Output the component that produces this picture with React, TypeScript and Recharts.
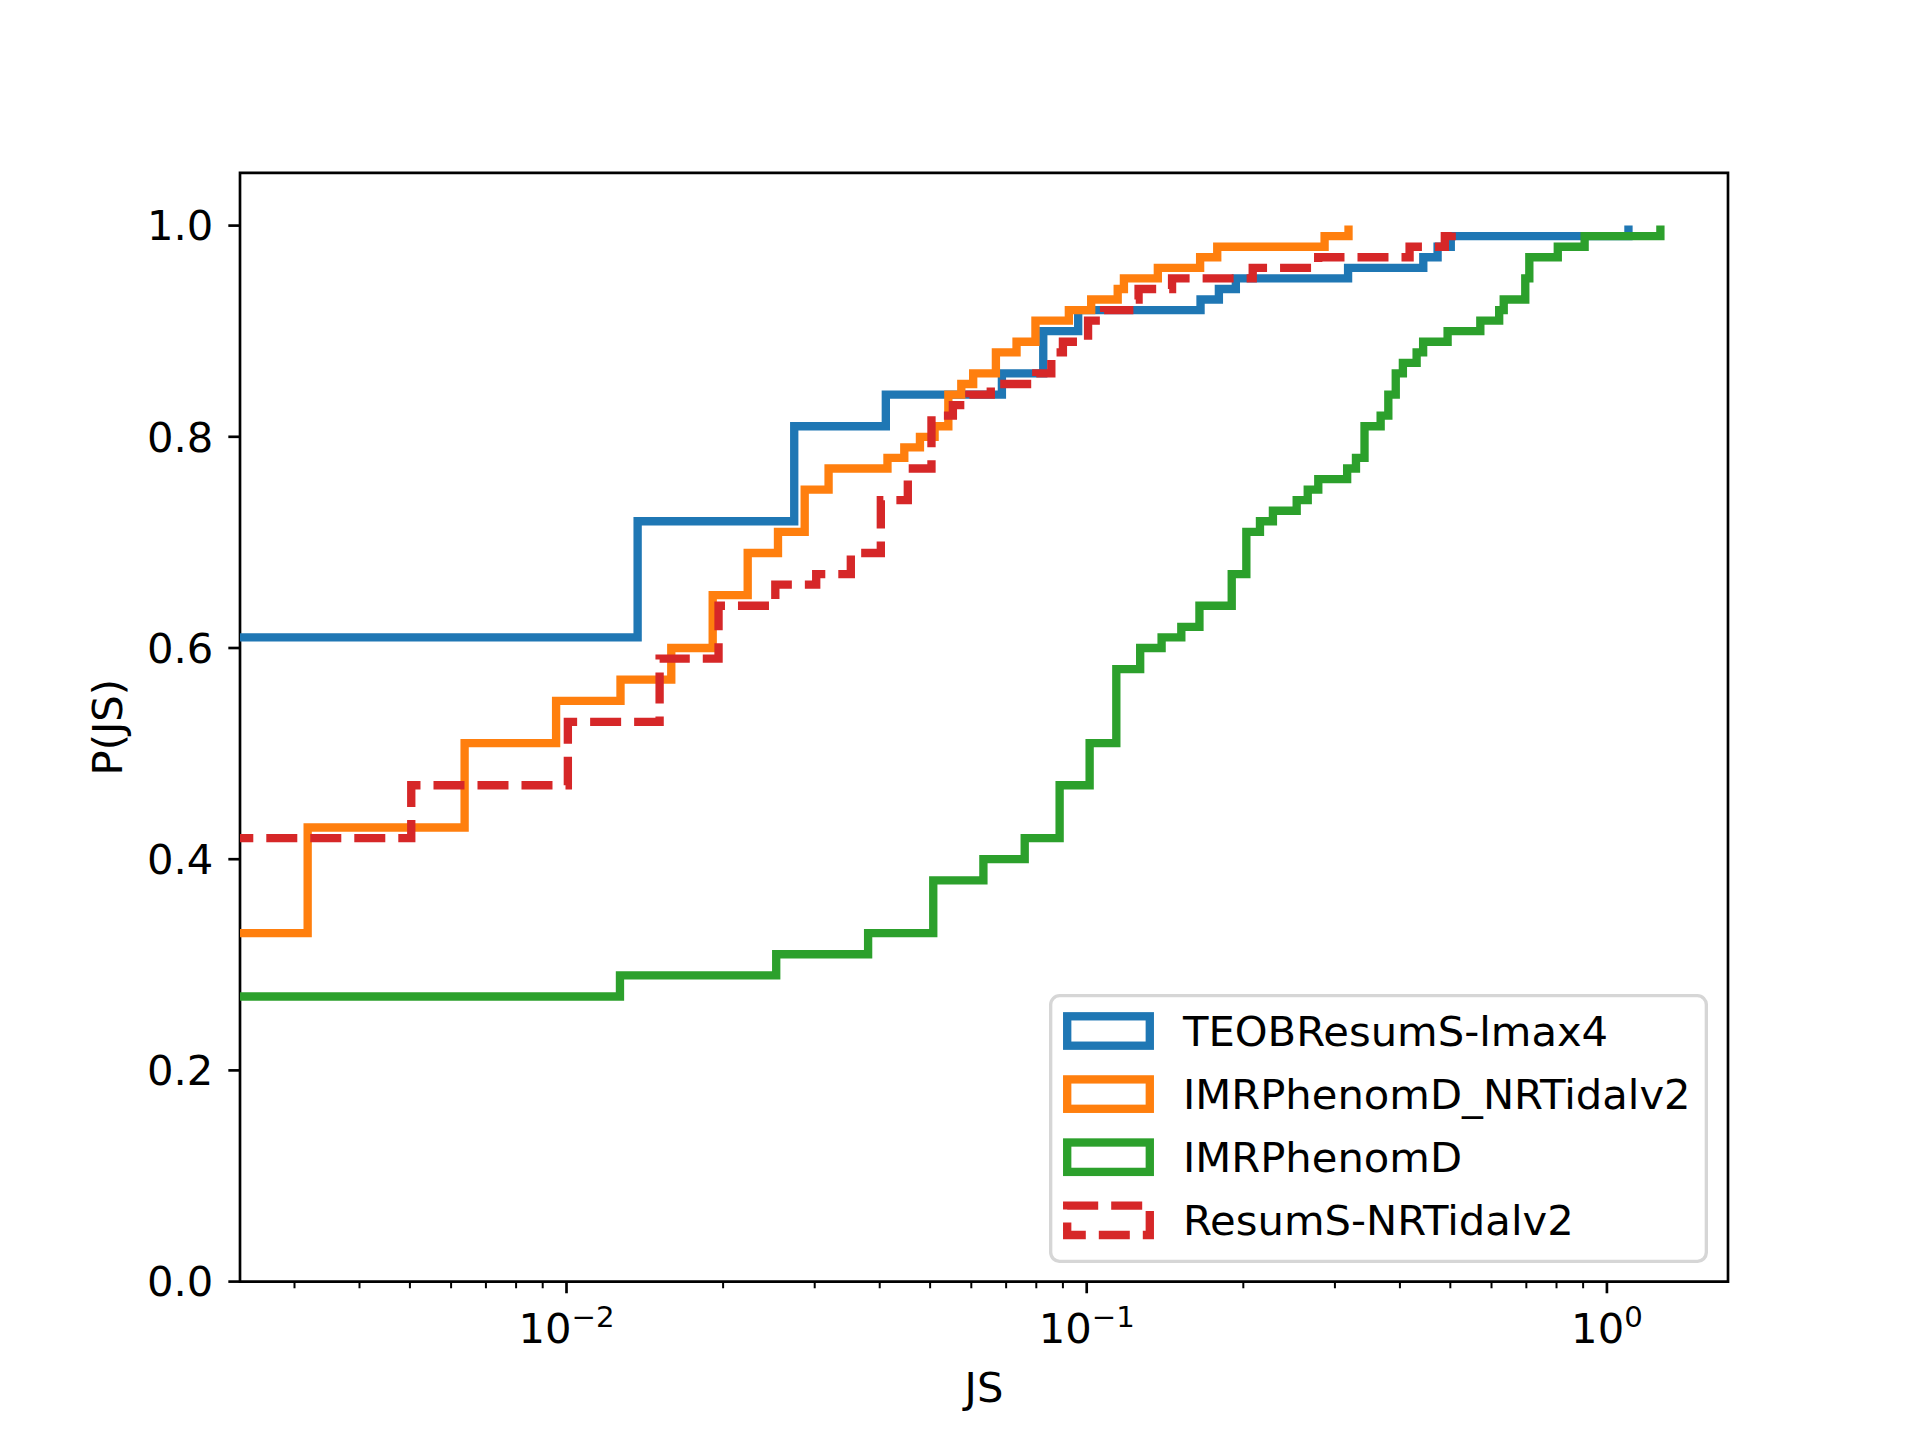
import React from "react";
import { LineChart, Line, XAxis, YAxis, ReferenceArea, Legend, Label } from "recharts";

// cumulative fraction P(JS) for each waveform model
const teobSteps = [
  { js: 0.001, p: 0.61 }, { js: 0.0137, p: 0.72 }, { js: 0.0274, p: 0.81 }, { js: 0.0411, p: 0.84 },
  { js: 0.0687, p: 0.86 }, { js: 0.0825, p: 0.9 }, { js: 0.0963, p: 0.92 }, { js: 0.1655, p: 0.93 },
  { js: 0.1795, p: 0.94 }, { js: 0.1935, p: 0.95 }, { js: 0.318, p: 0.96 }, { js: 0.4436, p: 0.97 },
  { js: 0.4726, p: 0.98 }, { js: 0.501, p: 0.99 }, { js: 1.1, p: 1.0 },
];

const nrTidalSteps = [
  { js: 0.001, p: 0.33 }, { js: 0.00318, p: 0.43 }, { js: 0.00637, p: 0.51 }, { js: 0.00955, p: 0.55 },
  { js: 0.0127, p: 0.57 }, { js: 0.0159, p: 0.6 }, { js: 0.0191, p: 0.65 }, { js: 0.0223, p: 0.69 },
  { js: 0.0255, p: 0.71 }, { js: 0.0287, p: 0.75 }, { js: 0.0319, p: 0.77 }, { js: 0.0414, p: 0.78 },
  { js: 0.0446, p: 0.79 }, { js: 0.0478, p: 0.8 }, { js: 0.051, p: 0.81 }, { js: 0.0542, p: 0.84 },
  { js: 0.0574, p: 0.85 }, { js: 0.0605, p: 0.86 }, { js: 0.0669, p: 0.88 }, { js: 0.0733, p: 0.89 },
  { js: 0.0797, p: 0.91 }, { js: 0.0924, p: 0.92 }, { js: 0.102, p: 0.93 }, { js: 0.1147, p: 0.94 },
  { js: 0.1179, p: 0.95 }, { js: 0.137, p: 0.96 }, { js: 0.1652, p: 0.97 }, { js: 0.1782, p: 0.98 },
  { js: 0.2866, p: 0.99 }, { js: 0.3186, p: 1.0 },
];

const phenomDSteps = [
  { js: 0.001, p: 0.27 }, { js: 0.01267, p: 0.29 }, { js: 0.0253, p: 0.31 }, { js: 0.038, p: 0.33 },
  { js: 0.0507, p: 0.38 }, { js: 0.0633, p: 0.4 }, { js: 0.076, p: 0.42 }, { js: 0.0887, p: 0.47 },
  { js: 0.1013, p: 0.51 }, { js: 0.114, p: 0.58 }, { js: 0.1267, p: 0.6 }, { js: 0.1393, p: 0.61 },
  { js: 0.152, p: 0.62 }, { js: 0.1647, p: 0.64 }, { js: 0.19, p: 0.67 }, { js: 0.2027, p: 0.71 },
  { js: 0.2153, p: 0.72 }, { js: 0.228, p: 0.73 }, { js: 0.2533, p: 0.74 }, { js: 0.266, p: 0.75 },
  { js: 0.2787, p: 0.76 }, { js: 0.3167, p: 0.77 }, { js: 0.3293, p: 0.78 }, { js: 0.342, p: 0.81 },
  { js: 0.3673, p: 0.82 }, { js: 0.38, p: 0.84 }, { js: 0.3927, p: 0.86 }, { js: 0.4053, p: 0.87 },
  { js: 0.4307, p: 0.88 }, { js: 0.4433, p: 0.89 }, { js: 0.494, p: 0.9 }, { js: 0.571, p: 0.91 },
  { js: 0.6207, p: 0.92 }, { js: 0.6333, p: 0.93 }, { js: 0.6967, p: 0.95 }, { js: 0.7093, p: 0.97 },
  { js: 0.8045, p: 0.98 }, { js: 0.906, p: 0.99 }, { js: 1.267, p: 1.0 },
];

const resumSteps = [
  { js: 0.001, p: 0.42 }, { js: 0.00503, p: 0.47 }, { js: 0.01006, p: 0.53 }, { js: 0.0151, p: 0.59 },
  { js: 0.0196, p: 0.64 }, { js: 0.0252, p: 0.66 }, { js: 0.0302, p: 0.67 }, { js: 0.0352, p: 0.69 },
  { js: 0.0402, p: 0.74 }, { js: 0.0453, p: 0.77 }, { js: 0.0503, p: 0.82 }, { js: 0.0553, p: 0.83 },
  { js: 0.0595, p: 0.84 }, { js: 0.0654, p: 0.85 }, { js: 0.08, p: 0.86 }, { js: 0.0855, p: 0.88 },
  { js: 0.09, p: 0.89 }, { js: 0.1006, p: 0.91 }, { js: 0.108, p: 0.92 }, { js: 0.1207, p: 0.93 },
  { js: 0.1258, p: 0.94 }, { js: 0.1459, p: 0.95 }, { js: 0.2085, p: 0.96 }, { js: 0.2786, p: 0.97 },
  { js: 0.4175, p: 0.98 }, { js: 0.488, p: 0.99 }, { js: 0.503, p: 1.0 },
];

const seriesNames = ["TEOBResumS-lmax4", "IMRPhenomD_NRTidalv2", "IMRPhenomD", "ResumS-NRTidalv2"];

const xMajorTicks = [0.01, 0.1, 1];
const xMinorTicks = [
  0.003, 0.004, 0.005, 0.006, 0.007, 0.008, 0.009,
  0.02, 0.03, 0.04, 0.05, 0.06, 0.07, 0.08, 0.09,
  0.2, 0.3, 0.4, 0.5, 0.6, 0.7, 0.8, 0.9,
];
const yTicks = [0, 0.2, 0.4, 0.6, 0.8, 1.0];

const xDomain: [number, number] = [0.002357, 1.709];
const yDomain: [number, number] = [0, 1.05];

const FONT = "DejaVu Sans";
const FS = 41.7;
const LW = 8.33;
const DASH = "31 13";

const series = [
  { name: seriesNames[0], data: teobSteps, color: "#1f77b4", dash: undefined },
  { name: seriesNames[1], data: nrTidalSteps, color: "#ff7f0e", dash: undefined },
  { name: seriesNames[2], data: phenomDSteps, color: "#2ca02c", dash: undefined },
  { name: seriesNames[3], data: resumSteps, color: "#d62728", dash: DASH },
];

function LogTick(props: any) {
  const { x, y, payload } = props;
  const v = payload.value;
  const major = xMajorTicks.includes(v);
  const exp = Math.round(Math.log10(v));
  return (
    <g>
      <line
        x1={x}
        x2={x}
        y1={y}
        y2={y + (major ? 11.67 : 6.67)}
        stroke="#000"
        strokeWidth={major ? 2.67 : 2}
      />
      {major && (
        <text x={x} y={y + 61} textAnchor="middle" fontFamily={FONT} fontSize={FS} fill="#000">
          <tspan>10</tspan>
          <tspan fontSize={FS * 0.7} dy={-16}>
            {exp < 0 ? "\u2212" + -exp : String(exp)}
          </tspan>
        </text>
      )}
    </g>
  );
}

function StepLegend() {
  const w = 659;
  const h = 269;
  return (
    <svg width={w} height={h} style={{ display: "block" }}>
      <rect
        x={1.67}
        y={1.67}
        width={w - 3.33}
        height={h - 3.33}
        rx={9}
        fill="#fff"
        fillOpacity={0.8}
        stroke="#d6d6d6"
        strokeWidth={3.33}
      />
      {series.map((s, i) => {
        const cy = 37 + i * 63.1;
        return (
          <g key={s.name}>
            <rect
              x={18.2}
              y={cy - 14.7}
              width={82.6}
              height={29.4}
              fill="none"
              stroke={s.color}
              strokeWidth={LW}
              strokeDasharray={s.dash}
            />
            <text x={134} y={cy + 15} fontFamily={FONT} fontSize={FS} fill="#000">
              {s.name}
            </text>
          </g>
        );
      })}
    </svg>
  );
}

export default function App() {
  return (
    <div style={{ position: "absolute", left: 0, top: 0, width: 1920, height: 1440, background: "#fff" }}>
      <LineChart
        width={1920}
        height={1440}
        margin={{ top: 172.8, right: 192, bottom: 118.4, left: 180 }}
      >
        <XAxis
          dataKey="js"
          type="number"
          scale="log"
          domain={xDomain}
          allowDataOverflow
          ticks={[...xMinorTicks, ...xMajorTicks].sort((a, b) => a - b)}
          interval={0}
          tick={<LogTick />}
          tickLine={false}
          axisLine={false}
          tickSize={0}
          tickMargin={0}
          height={40}
        >
          <Label
            content={(p: any) => (
              <text
                x={p.viewBox.x + p.viewBox.width / 2}
                y={p.viewBox.y + 120}
                textAnchor="middle"
                fontFamily={FONT}
                fontSize={FS}
                fill="#000"
              >
                JS
              </text>
            )}
          />
        </XAxis>
        <YAxis
          type="number"
          domain={yDomain}
          allowDataOverflow
          ticks={yTicks}
          interval={0}
          tickFormatter={(v: number) => v.toFixed(1)}
          tick={{ fontSize: FS, fill: "#000", fontFamily: FONT }}
          tickLine={{ stroke: "#000", strokeWidth: 2.67 }}
          tickSize={11.67}
          tickMargin={15}
          axisLine={false}
          width={60}
        >
          <Label
            content={(p: any) => {
              const cx = 122;
              const cy = p.viewBox.y + p.viewBox.height / 2;
              return (
                <text
                  x={cx}
                  y={cy}
                  transform={`rotate(-90 ${cx} ${cy})`}
                  textAnchor="middle"
                  fontFamily={FONT}
                  fontSize={FS}
                  fill="#000"
                >
                  P(JS)
                </text>
              );
            }}
          />
        </YAxis>
        {series.map((s) => (
          <Line
            key={s.name}
            name={s.name}
            data={s.data}
            dataKey="p"
            type="stepAfter"
            stroke={s.color}
            strokeWidth={LW}
            strokeDasharray={s.dash}
            strokeLinejoin="miter"
            strokeLinecap="butt"
            dot={false}
            activeDot={false}
            isAnimationActive={false}
          />
        ))}
        <ReferenceArea
          x1={xDomain[0]}
          x2={xDomain[1]}
          y1={yDomain[0]}
          y2={yDomain[1]}
          fill="none"
          fillOpacity={0}
          stroke="#000"
          strokeWidth={2.67}
          ifOverflow="visible"
        />
        <Legend
          layout="vertical"
          align="center"
          verticalAlign="middle"
          width={659}
          height={269}
          content={() => <StepLegend />}
          wrapperStyle={{ left: 1049, top: 994, width: 659, height: 269 }}
        />
      </LineChart>
    </div>
  );
}
